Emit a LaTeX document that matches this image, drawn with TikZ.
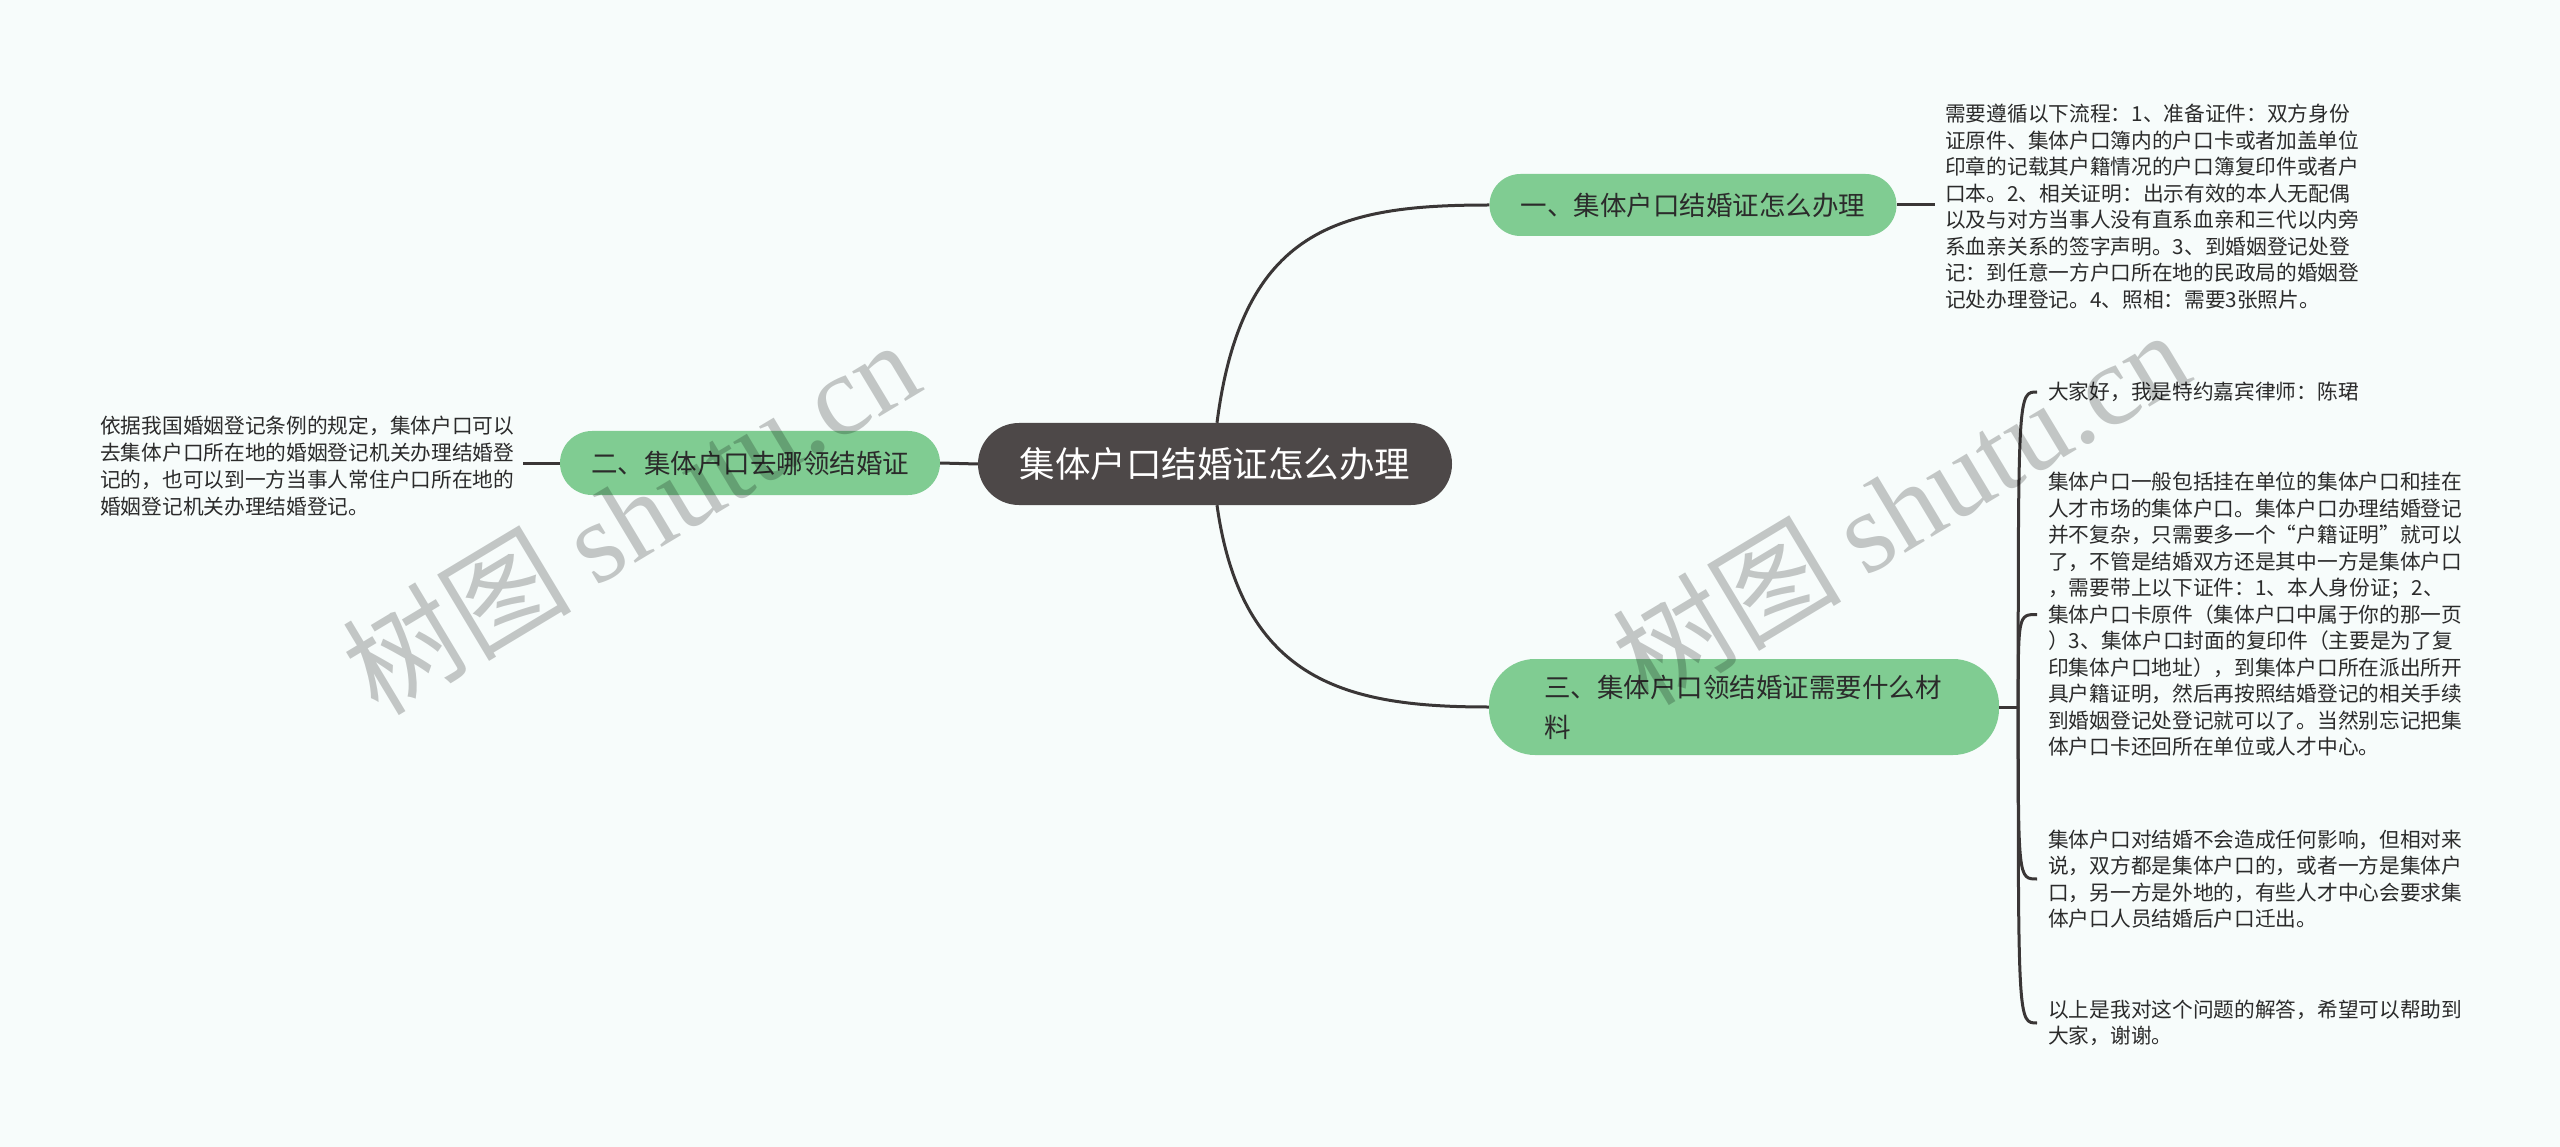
\documentclass[tikz,border=0pt]{standalone}
\usepackage{fontspec}
\newfontfamily\cjk{Noto Sans CJK SC}
\newfontfamily\wmserif{Liberation Serif}
\usetikzlibrary{calc}
\definecolor{bgc}{HTML}{F7FCFB}
\definecolor{nodegreen}{HTML}{80CC92}
\definecolor{rootfill}{HTML}{4D4848}
\definecolor{linec}{HTML}{3A3636}
\definecolor{txt}{HTML}{2B2B2B}
\begin{document}
\begin{tikzpicture}[x=1pt,y=-1pt,
  conn/.style={draw=linec, line width=3pt},
  rootbox/.style={rounded corners=41pt, fill=rootfill, text=white, minimum width=474pt, minimum height=82pt, inner sep=0pt, font=\cjk\fontsize{35.5}{42}\selectfont},
  topicbox/.style={fill=nodegreen, text=txt, inner sep=0pt, align=left, font=\cjk\fontsize{26.5}{40}\selectfont},
  leaf/.style={anchor=west, align=left, inner sep=0pt, text=txt, font=\cjk\fontsize{20.7}{26.5}\selectfont},
  wm/.style={text=black, text opacity=0.21, inner sep=0pt, rotate=31, anchor=base west, font=\fontsize{115}{115}\selectfont}
]
\useasboundingbox (0,0) rectangle (2560,1147);
\fill[bgc] (0,0) rectangle (2560,1147);

% main nodes
\node[rootbox] (root) at (1215,464) {集体户口结婚证怎么办理};
\node[topicbox, rounded corners=31pt, minimum width=407pt, minimum height=62pt] (n1) at (1693,205) {一、集体户口结婚证怎么办理};
\node[topicbox, rounded corners=32pt, minimum width=380pt, minimum height=64pt] (n2) at (750,463) {二、集体户口去哪领结婚证};
\node[topicbox, rounded corners=46pt, minimum width=510pt, minimum height=96pt, text width=400pt] (n3) at (1744,707) {三、集体户口领结婚证需要什么材\\料};

% leaf texts
\node[leaf] (t1) at (1945,206.5) {需要遵循以下流程：1、准备证件：双方身份\\%
证原件、集体户口簿内的户口卡或者加盖单位\\%
印章的记载其户籍情况的户口簿复印件或者户\\%
口本。2、相关证明：出示有效的本人无配偶\\%
以及与对方当事人没有直系血亲和三代以内旁\\%
系血亲关系的签字声明。3、到婚姻登记处登\\%
记：到任意一方户口所在地的民政局的婚姻登\\%
记处办理登记。4、照相：需要3张照片。};

\node[leaf, font=\cjk\fontsize{20.7}{27.2}\selectfont] (tl) at (100,466) {依据我国婚姻登记条例的规定，集体户口可以\\%
去集体户口所在地的婚姻登记机关办理结婚登\\%
记的，也可以到一方当事人常住户口所在地的\\%
婚姻登记机关办理结婚登记。};

\node[leaf] (r1) at (2048,392) {大家好，我是特约嘉宾律师：陈珺};
\node[leaf] (r2) at (2048,614.5) {集体户口一般包括挂在单位的集体户口和挂在\\%
人才市场的集体户口。集体户口办理结婚登记\\%
并不复杂，只需要多一个“户籍证明”就可以\\%
了，不管是结婚双方还是其中一方是集体户口\\%
，需要带上以下证件：1、本人身份证；2、\\%
集体户口卡原件（集体户口中属于你的那一页\\%
）3、集体户口封面的复印件（主要是为了复\\%
印集体户口地址），到集体户口所在派出所开\\%
具户籍证明，然后再按照结婚登记的相关手续\\%
到婚姻登记处登记就可以了。当然别忘记把集\\%
体户口卡还回所在单位或人才中心。};
\node[leaf] (r3) at (2048,879) {集体户口对结婚不会造成任何影响，但相对来\\%
说，双方都是集体户口的，或者一方是集体户\\%
口，另一方是外地的，有些人才中心会要求集\\%
体户口人员结婚后户口迁出。};
\node[leaf] (r4) at (2048,1023) {以上是我对这个问题的解答，希望可以帮助到\\%
大家，谢谢。};

% connectors
\draw[conn] ([xshift=2pt]root.north) .. controls +(25,-195) and +(-150,0) .. (n1.west);
\draw[conn] ([xshift=2pt]root.south) .. controls +(25,178) and +(-140,0) .. (n3.west);
\draw[conn] (root.west) -- (n2.east);
\coordinate (tlend) at ([xshift=9pt]tl.east);
\draw[conn] (n2.west) -- (n2.west -| tlend);
\coordinate (t1end) at ([xshift=-10pt]t1.west);
\draw[conn] (n1.east) -- (n1.east -| t1end);
\coordinate (br) at ([xshift=19pt]n3.east);
\draw[conn] (n3.east) -- (br);
\foreach \r in {r1,r2,r3,r4}{
  \draw[conn] (br) .. controls (br |- \r.west) and (br |- \r.west) .. ([xshift=-11pt]\r.west);
}

% watermarks
\node[wm] (wm1) at (378,718) {\cjk 树图\hspace{0.2em}\wmserif shutu.cn};
\node[wm] (wm2) at (1648,708) {\cjk 树图\hspace{0.2em}\wmserif shutu.cn};
\end{tikzpicture}
\end{document}
